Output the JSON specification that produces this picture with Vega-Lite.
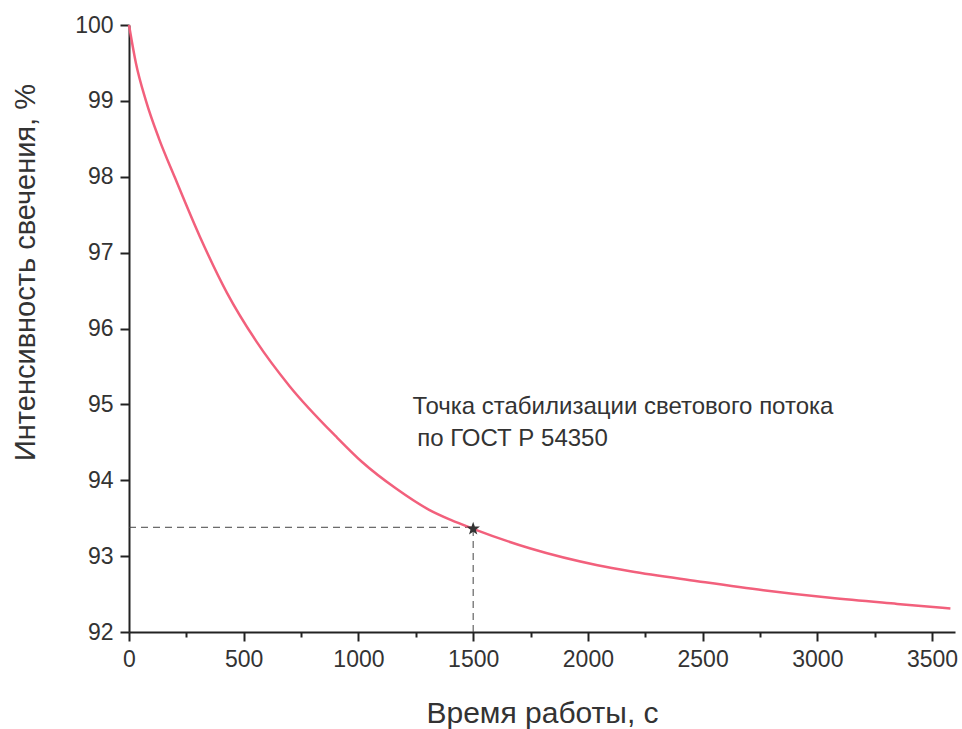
{
  "$schema": "https://vega.github.io/schema/vega-lite/v6.json",
  "width": 826,
  "height": 607,
  "autosize": {"type": "none"},
  "padding": {"left": 129, "top": 25, "right": 7, "bottom": 97},
  "background": "white",
  "config": {
    "view": {"stroke": null},
    "font": "Liberation Sans",
    "axis": {"grid": false, "domainColor": "#222", "tickColor": "#222", "labelColor": "#333", "titleColor": "#333", "labelFont": "Liberation Sans", "titleFont": "Liberation Sans"}
  },
  "datasets": {
    "curve": [
      {"t": 0, "v": 100},
      {"t": 30, "v": 99.5},
      {"t": 74, "v": 99.0},
      {"t": 131, "v": 98.5},
      {"t": 200, "v": 97.99},
      {"t": 309, "v": 97.21},
      {"t": 427, "v": 96.47},
      {"t": 555, "v": 95.83},
      {"t": 700, "v": 95.24},
      {"t": 901, "v": 94.58},
      {"t": 1016, "v": 94.24},
      {"t": 1164, "v": 93.89},
      {"t": 1308, "v": 93.61},
      {"t": 1400, "v": 93.48},
      {"t": 1500, "v": 93.36},
      {"t": 1750, "v": 93.1},
      {"t": 2042, "v": 92.88},
      {"t": 2185, "v": 92.8},
      {"t": 2477, "v": 92.67},
      {"t": 2765, "v": 92.55},
      {"t": 3056, "v": 92.45},
      {"t": 3348, "v": 92.37},
      {"t": 3580, "v": 92.31}
    ],
    "guides": [
      {"x1": 0, "x2": 1500, "y1": 93.38, "y2": 93.38},
      {"x1": 1500, "x2": 1500, "y1": 92, "y2": 93.36}
    ],
    "star": [{"t": 1500, "v": 93.36}],
    "notes": [
      {"t": 1236, "v": 94.97, "label": "Точка стабилизации светового потока"},
      {"t": 1256, "v": 94.54, "label": "по ГОСТ Р 54350"}
    ]
  },
  "layer": [
    {
      "data": {"name": "guides"},
      "mark": {"type": "rule", "strokeDash": [7, 5], "strokeWidth": 1, "color": "#444"},
      "encoding": {
        "x": {"field": "x1", "type": "quantitative", "scale": {"domain": [0, 3600], "nice": false, "zero": false},
          "axis": {"orient": "bottom", "values": [0, 250, 500, 750, 1000, 1250, 1500, 1750, 2000, 2250, 2500, 2750, 3000, 3250, 3500], "format": "d",
            "labelExpr": "datum.value % 500 === 0 ? datum.label : ''",
            "tickSize": {"condition": {"test": "datum.value % 500 === 0", "value": 9}, "value": 5},
            "labelFontSize": 23, "tickWidth": 2, "domainWidth": 2, "labelPadding": 7, "title": "Время работы, с", "titleFontSize": 30, "titleFontWeight": "normal", "titlePadding": 27, "labelFlush": false, "labelOverlap": false}},
        "x2": {"field": "x2"},
        "y": {"field": "y1", "type": "quantitative", "scale": {"domain": [92, 100], "nice": false, "zero": false},
          "axis": {"orient": "left", "values": [92, 92.5, 93, 93.5, 94, 94.5, 95, 95.5, 96, 96.5, 97, 97.5, 98, 98.5, 99, 99.5, 100], "format": "d",
            "labelExpr": "datum.value % 1 === 0 ? datum.label : ''",
            "tickSize": {"condition": {"test": "datum.value % 1 === 0", "value": 9}, "value": 5},
            "labelFontSize": 23, "tickWidth": 2, "domainWidth": 2, "labelPadding": 7, "title": "Интенсивность свечения, %", "titleFontSize": 29, "titleFontWeight": "normal", "titlePadding": 34, "titleY": 247, "labelFlush": false, "labelOverlap": false}},
        "y2": {"field": "y2"}
      }
    },
    {
      "data": {"name": "curve"},
      "mark": {"type": "line", "color": "#f2607c", "strokeWidth": 2.5, "interpolate": "monotone"},
      "encoding": {
        "x": {"field": "t", "type": "quantitative"},
        "y": {"field": "v", "type": "quantitative"}
      }
    },
    {
      "data": {"name": "star"},
      "mark": {"type": "point", "shape": "M0,-1L0.235,-0.324L0.951,-0.309L0.38,0.124L0.588,0.809L0,0.4L-0.588,0.809L-0.38,0.124L-0.951,-0.309L-0.235,-0.324Z", "filled": true, "color": "#333", "size": 200, "opacity": 1},
      "encoding": {
        "x": {"field": "t", "type": "quantitative"},
        "y": {"field": "v", "type": "quantitative"}
      }
    },
    {
      "data": {"name": "notes"},
      "mark": {"type": "text", "align": "left", "baseline": "middle", "fontSize": 24, "color": "#333"},
      "encoding": {
        "x": {"field": "t", "type": "quantitative"},
        "y": {"field": "v", "type": "quantitative"},
        "text": {"field": "label"}
      }
    }
  ]
}
